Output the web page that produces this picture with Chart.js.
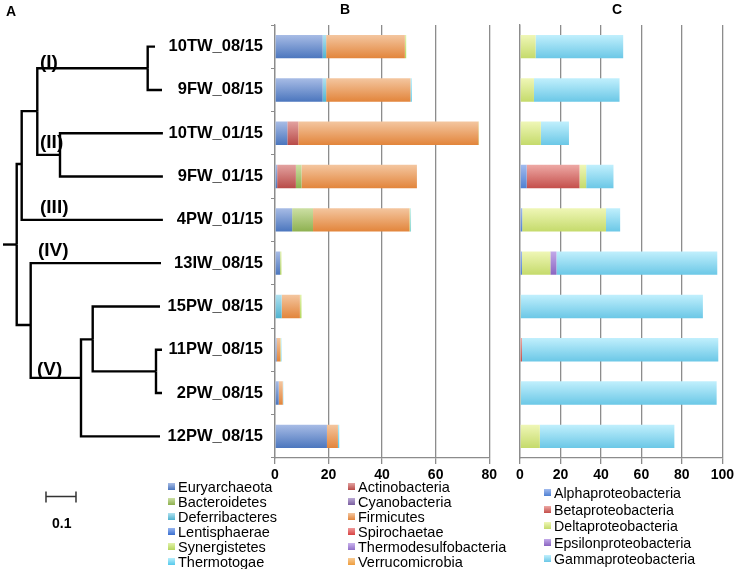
<!DOCTYPE html>
<html>
<head>
<meta charset="utf-8">
<script src="https://cdn.jsdelivr.net/npm/chart.js@4.4.0/dist/chart.umd.min.js"></script>
<style>
  body { margin: 0; background: #fff; font-family: "Liberation Sans", Arial, sans-serif; }
  #wrap { position: relative; width: 737px; height: 569px; overflow: hidden; }
  canvas { position: absolute; top: 0; }
  .t { position: absolute; font-weight: bold; color: #000; line-height: 1; white-space: nowrap; }
  .li { position: absolute; color: #000; white-space: nowrap; line-height: 1; }
  .li i { position: absolute; left: -10px; top: 50%; width: 7px; height: 7px; margin-top: -4px; }
</style>
</head>
<body>
<div id="wrap">
  <canvas id="tree" width="170" height="569" style="left:0"></canvas>
  <canvas id="phyla" width="350" height="569" style="left:150px"></canvas>
  <canvas id="proteo" width="232" height="569" style="left:505px"></canvas>

  <div class="t" style="left:6px;top:4px;font-size:14px">A</div>
  <div class="t" style="left:340px;top:2px;font-size:14px">B</div>
  <div class="t" style="left:612px;top:2px;font-size:14px">C</div>

  <div class="t" style="left:40px;top:52px;font-size:19px">(I)</div>
  <div class="t" style="left:40px;top:132px;font-size:19px">(II)</div>
  <div class="t" style="left:40px;top:197px;font-size:19px">(III)</div>
  <div class="t" style="left:38px;top:240px;font-size:19px">(IV)</div>
  <div class="t" style="left:37px;top:359px;font-size:19px">(V)</div>
  <div class="t" style="left:52px;top:516px;font-size:14px">0.1</div>
</div>
<script>
// samples, top to bottom
var samples = ['10TW_08/15', '9FW_08/15', '10TW_01/15', '9FW_01/15', '4PW_01/15',
               '13IW_08/15', '15PW_08/15', '11PW_08/15', '2PW_08/15', '12PW_08/15'];

// B: phyla, % of reads
var euryarchaeota         = [17.8, 17.8, 4.6, 0.8, 6.4, 1.9, 0, 0.6, 1.4, 19.4];
var actinobacteria        = [0, 0, 4.1, 7.0, 0, 0, 0, 0, 0, 0];
var bacteroidetes         = [0, 0, 0, 2.1, 7.8, 0, 0, 0, 0, 0];
var cyanobacteria         = [0, 0, 0, 0, 0, 0, 0, 0, 0, 0];
var deferribacteres       = [1.3, 1.3, 0, 0, 0, 0, 2.5, 0, 0, 0];
var firmicutes            = [29.4, 31.5, 67.3, 43.1, 36.0, 0, 6.8, 1.4, 1.5, 4.1];
var lentisphaerae         = [0, 0, 0, 0, 0, 0, 0, 0, 0, 0];
var spirochaetae          = [0, 0, 0, 0, 0, 0, 0, 0, 0, 0];
var synergistetes         = [0.5, 0, 0.2, 0, 0.3, 0.5, 0.6, 0.2, 0, 0];
var thermodesulfobacteria = [0, 0, 0, 0, 0, 0, 0, 0, 0, 0];
var thermotogae           = [0, 0.5, 0, 0, 0.3, 0, 0, 0.2, 0.2, 0.5];
var verrucomicrobia       = [0, 0, 0, 0, 0, 0, 0, 0, 0, 0];

// C: proteobacteria classes, %
var alphaproteo   = [0, 0, 0, 3.3, 1.1, 1.0, 0, 0, 0, 0];
var betaproteo    = [0, 0, 0, 26.1, 0, 0, 0, 1.0, 0, 0];
var deltaproteo   = [7.7, 6.9, 10.3, 3.3, 41.4, 14.0, 0.4, 0, 0.4, 9.8];
var epsilonproteo = [0, 0, 0, 0, 0, 3.0, 0, 0, 0, 0];
var gammaproteo   = [43.3, 42.3, 13.9, 13.5, 7.0, 79.5, 90.0, 97.0, 96.8, 66.5];

var phylaTicks = [0, 20, 40, 60, 80];
var proteoTicks = [0, 20, 40, 60, 80, 100];

// A: tree nodes (depth = branch distance from root stub, row = sample row)
var nodeName   = ['base', 'root', 'a', 'b', 'I', '10TW_08/15', '9FW_08/15', 'II', '10TW_01/15', '9FW_01/15',
                  '4PW_01/15', 'c', '13IW_08/15', 'V', 'd', '15PW_08/15', 'e', '11PW_08/15', '2PW_08/15', '12PW_08/15'];
var nodeParent = [-1, 0, 1, 2, 3, 4, 4, 3, 7, 7, 2, 1, 11, 11, 13, 14, 14, 16, 16, 13];
var nodeDepth  = [0, 0.0457, 0.0623, 0.1143, 0.4823, 0.5067, 0.53, 0.19, 0.533, 0.533,
                  0.533, 0.0923, 0.5267, 0.26, 0.299, 0.5233, 0.51, 0.53, 0.53, 0.5233];
var nodeRow    = [4.57, 4.57, 2.71, 1.49, 0.5, 0, 1, 2.5, 2, 3,
                  4, 6.43, 5, 7.65, 6.76, 6, 7.5, 7, 8, 9];
var scaleBar = 0.1;

Chart.defaults.font.family = "'Liberation Sans', Arial, sans-serif";
Chart.defaults.animation = false;

function barFill(light, dark) {
  return function (c) {
    var chart = c.chart;
    if (!chart.chartArea || c.type !== 'data') return dark;
    var y = chart.scales.y.getPixelForValue(c.dataIndex);
    var g = chart.ctx.createLinearGradient(0, y - 12, 0, y + 12);
    g.addColorStop(0, light);
    g.addColorStop(1, dark);
    return g;
  };
}

var phylaSeries = [
  ['Euryarchaeota', euryarchaeota, '#a9bde6', '#4a75bd'],
  ['Actinobacteria', actinobacteria, '#e3a3a1', '#b84a47'],
  ['Bacteroidetes', bacteroidetes, '#cde0a5', '#8db04f'],
  ['Cyanobacteria', cyanobacteria, '#bcaad6', '#7a5ea0'],
  ['Deferribacteres', deferribacteres, '#b2e2f0', '#4fb2cf'],
  ['Firmicutes', firmicutes, '#f4c7a1', '#e2843a'],
  ['Lentisphaerae', lentisphaerae, '#98b6f0', '#3a6fd0'],
  ['Spirochaetae', spirochaetae, '#f09a9a', '#d84343'],
  ['Synergistetes', synergistetes, '#e2f2ac', '#b5d65c'],
  ['Thermodesulfobacteria', thermodesulfobacteria, '#cbb4ee', '#9070c8'],
  ['Thermotogae', thermotogae, '#b8eefb', '#55c9ec'],
  ['Verrucomicrobia', verrucomicrobia, '#f8cc96', '#ee9d3e']
];
var proteoSeries = [
  ['Alphaproteobacteria', alphaproteo, '#a2bbee', '#4f80d2'],
  ['Betaproteobacteria', betaproteo, '#eeaaa6', '#c44e4a'],
  ['Deltaproteobacteria', deltaproteo, '#f0f7b8', '#c4da6a'],
  ['Epsilonproteobacteria', epsilonproteo, '#c3aaea', '#8a64c0'],
  ['Gammaproteobacteria', gammaproteo, '#c2f0fd', '#6ac7e6']
];

function makeBars(series) {
  return series.map(function (s) {
    return {
      label: s[0], data: s[1],
      backgroundColor: barFill(s[2], s[3]),
      borderWidth: 0, barPercentage: 0.54, categoryPercentage: 1
    };
  });
}

var gridGray = '#8c8c8c';

function barOptions(max, showNames, rightPad) {
  return {
    indexAxis: 'y',
    responsive: false,
    layout: { padding: { top: 25, right: rightPad, bottom: 0, left: 0 } },
    plugins: { legend: { display: false }, tooltip: { enabled: false } },
    scales: {
      x: {
        stacked: true, min: 0, max: max,
        afterBuildTicks: function (s) {
          s.ticks = (max === 80 ? phylaTicks : proteoTicks).map(function (v) { return { value: v }; });
        },
        ticks: { color: '#000', font: { size: 14, weight: 'bold' }, padding: 3 },
        grid: { color: gridGray, lineWidth: 1.3, tickLength: 6 },
        border: { color: gridGray, width: 1.3 },
        afterFit: function (s) { s.height = 111; }
      },
      y: {
        stacked: true,
        ticks: { display: showNames, color: '#000', font: { size: 16.5, weight: 'bold' }, padding: 8 },
        grid: { display: showNames, drawOnChartArea: false, tickLength: 4, color: gridGray, offset: true },
        border: { color: gridGray, width: 1.3 },
        afterFit: function (s) { s.width = showNames ? 125 : 15; }
      }
    }
  };
}

new Chart(document.getElementById('phyla'), {
  type: 'bar',
  data: { labels: samples, datasets: makeBars(phylaSeries) },
  options: barOptions(80, true, 10)
});

new Chart(document.getElementById('proteo'), {
  type: 'bar',
  data: { labels: samples, datasets: makeBars(proteoSeries) },
  options: barOptions(100, false, 13)
});

// tree: one elbow per node, from parent's depth to its own
var branches = [];
for (var i = 1; i < nodeName.length; i++) {
  var p = nodeParent[i];
  branches.push({
    label: nodeName[i],
    data: [
      { x: nodeDepth[p], y: nodeRow[p] },
      { x: nodeDepth[p], y: nodeRow[i] },
      { x: nodeDepth[i], y: nodeRow[i] }
    ],
    showLine: true, borderColor: '#000', borderWidth: 2.4,
    pointRadius: 0, fill: false, tension: 0
  });
}

var scaleBarPlugin = {
  id: 'scaleBar',
  afterDraw: function (chart) {
    var ctx = chart.ctx, x = chart.scales.x;
    var x0 = x.getPixelForValue(0.1433), x1 = x.getPixelForValue(0.1433 + scaleBar);
    var y = 496.5;
    ctx.save();
    ctx.strokeStyle = '#333';
    ctx.lineWidth = 1.5;
    ctx.beginPath();
    ctx.moveTo(x0, y); ctx.lineTo(x1, y);
    ctx.moveTo(x0, y - 5); ctx.lineTo(x0, y + 6);
    ctx.moveTo(x1, y - 5); ctx.lineTo(x1, y + 6);
    ctx.stroke();
    ctx.restore();
  }
};

new Chart(document.getElementById('tree'), {
  type: 'scatter',
  data: { datasets: branches },
  options: {
    responsive: false,
    layout: { padding: { top: 25, right: 2, bottom: 111, left: 3 } },
    plugins: { legend: { display: false }, tooltip: { enabled: false } },
    scales: {
      x: { type: 'linear', min: 0, max: 0.55, display: false },
      y: { type: 'linear', min: -0.5, max: 9.5, reverse: true, display: false }
    }
  },
  plugins: [scaleBarPlugin]
});

// legends below the bar panels
function addLegend(series, left, top, colGap, rowGap, cols, size) {
  var wrap = document.getElementById('wrap');
  series.forEach(function (s, k) {
    var d = document.createElement('div');
    d.className = 'li';
    d.style.left = (left + (k % cols) * colGap) + 'px';
    d.style.top = (top + Math.floor(k / cols) * rowGap) + 'px';
    d.style.fontSize = size + 'px';
    d.innerHTML = '<i style="background:linear-gradient(' + s[2] + ',' + s[3] + ')"></i>' + s[0];
    wrap.appendChild(d);
  });
}
addLegend(phylaSeries, 178, 480, 180, 14.9, 2, 14.5);
addLegend(proteoSeries, 554, 486, 0, 16.5, 1, 14.2);
</script>
</body>
</html>
